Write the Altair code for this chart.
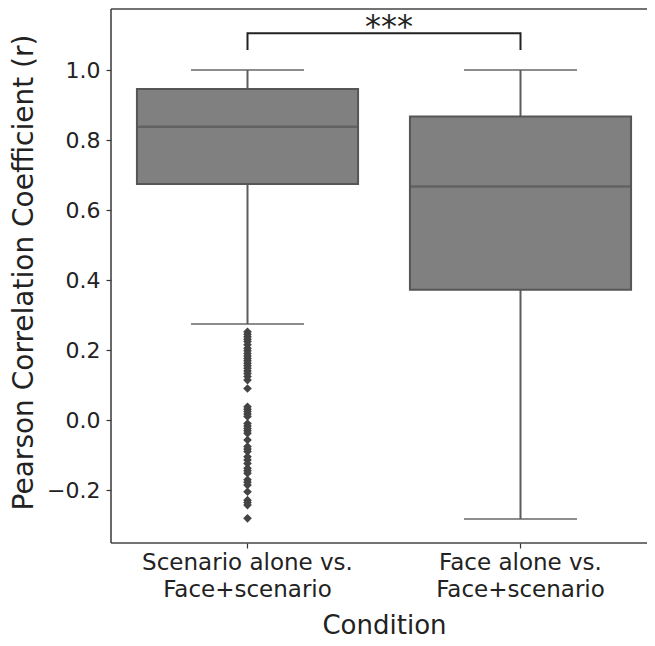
import altair as alt
import pandas as pd

# ---- data ----
categories = ["Scenario alone vs.\nFace+scenario", "Face alone vs.\nFace+scenario"]
q1 = [0.674, 0.372]
median = [0.838, 0.667]
q3 = [0.946, 0.867]
whisker_low = [0.274, -0.283]
whisker_high = [1.0, 1.0]

outliers_cat0 = [0.252, 0.245, 0.238, 0.231, 0.224, 0.215, 0.205, 0.198, 0.190, 0.183,
                 0.176, 0.169, 0.162, 0.155, 0.148, 0.140, 0.133, 0.124, 0.114, 0.090,
                 0.038, 0.031, 0.024, 0.017, 0.010, -0.010, -0.017, -0.024, -0.031, -0.038,
                 -0.057, -0.076, -0.083, -0.090, -0.105, -0.114, -0.124, -0.138, -0.145,
                 -0.152, -0.171, -0.178, -0.186, -0.205, -0.229, -0.236, -0.243, -0.281]

y_ticks = [-0.2, 0.0, 0.2, 0.4, 0.6, 0.8, 1.0]
sig_label = "***"
bracket_low = 1.057
bracket_high = 1.105

# ---- tables ----
boxes = pd.DataFrame({"cat": categories, "q1": q1, "median": median, "q3": q3,
                      "lo": whisker_low, "hi": whisker_high})
caps = pd.DataFrame({"cat": categories * 2, "v": whisker_low + whisker_high})
outl = pd.DataFrame({"cat": [categories[0]] * len(outliers_cat0), "v": outliers_cat0})
bracket = pd.DataFrame({"cat": [categories[0], categories[0], categories[1], categories[1]],
                        "v": [bracket_low, bracket_high, bracket_high, bracket_low],
                        "o": [0, 1, 2, 3]})
sig = pd.DataFrame({"v": [bracket_high], "t": [sig_label]})

STEP = 273
W = 536
H = 534
ydom = [-0.3514, 1.1743]

xenc = alt.X("cat:N", sort=categories,
             scale=alt.Scale(domain=categories, range=[0, 2 * STEP], paddingInner=0, paddingOuter=0),
             axis=alt.Axis(title="Condition", labelAngle=0, labelExpr="split(datum.label, '\\n')",
                           labelFontSize=23, labelColor="#222", labelLineHeight=27,
                           labelLimit=500, labelPadding=3, tickSize=5, tickColor="#333",
                           tickWidth=1.2, domain=False, grid=False, titleFontSize=26,
                           titleColor="#222", titleFontWeight="normal", titleY=95,
                           titleBaseline="bottom", titleFont="DejaVu Sans",
                           labelFont="DejaVu Sans"))
yscale = alt.Scale(domain=ydom, nice=False, zero=False)
yaxis = alt.Axis(title="Pearson Correlation Coefficient (r)", values=y_ticks, format=".1f",
                 labelFontSize=22, labelColor="#222", labelPadding=6, tickSize=5,
                 tickColor="#333", tickWidth=1.2, domain=False, grid=False,
                 titleFontSize=28, titleColor="#222", titleFontWeight="normal",
                 titleX=-79, titleY=263, titleAngle=270, titleAlign="center",
                 titleBaseline="alphabetic", titleFont="DejaVu Sans",
                 titleLimit=700, labelFont="DejaVu Sans")

LINE = "#5c5c5c"
FRAME = "#444"

whisk = alt.Chart(boxes).mark_rule(color=LINE, strokeWidth=2).encode(
    x=xenc, y=alt.Y("lo:Q", scale=yscale, axis=yaxis), y2="hi:Q")

box = alt.Chart(boxes).mark_bar(width=alt.RelativeBandSize(0.81), fill="#808080",
                                stroke="#565656", strokeWidth=2).encode(
    x=alt.X("cat:N", sort=categories), y=alt.Y("q1:Q", scale=yscale), y2="q3:Q")

med = alt.Chart(boxes).mark_tick(size=221, thickness=2.5, color="#565656").encode(
    x=alt.X("cat:N", sort=categories), y=alt.Y("median:Q", scale=yscale))

cap = alt.Chart(caps).mark_tick(size=113, thickness=2, color=LINE).encode(
    x=alt.X("cat:N", sort=categories), y=alt.Y("v:Q", scale=yscale))

pts = alt.Chart(outl).mark_point(shape="diamond", filled=True, size=75, color="#444",
                                 opacity=1).encode(
    x=alt.X("cat:N", sort=categories), y=alt.Y("v:Q", scale=yscale))

brk = alt.Chart(bracket).mark_line(color="#222", strokeWidth=2).encode(
    x=alt.X("cat:N", sort=categories), y=alt.Y("v:Q", scale=yscale), order="o:Q")

txt = alt.Chart(sig).mark_text(fontSize=32, font="DejaVu Sans", color="#222",
                               baseline="alphabetic", align="center", dy=4).encode(
    x=alt.value(STEP + 5), y=alt.Y("v:Q", scale=yscale), text="t:N")

# frame (left, top, bottom spines; the right one lies beyond the window)
left_sp = alt.Chart(sig).mark_rule(color=FRAME, strokeWidth=1.6).encode(
    x=alt.value(0), y=alt.value(0), y2=alt.value(H))
top_sp = alt.Chart(sig).mark_rule(color=FRAME, strokeWidth=1.6).encode(
    x=alt.value(0), x2=alt.value(W + 30), y=alt.value(0))
bot_sp = alt.Chart(sig).mark_rule(color=FRAME, strokeWidth=1.6).encode(
    x=alt.value(0), x2=alt.value(W + 30), y=alt.value(H))

chart = alt.layer(whisk, box, med, cap, pts, brk, txt, left_sp, top_sp, bot_sp).properties(
    width=W, height=H,
    autosize=alt.AutoSizeParams(type="none"),
    padding={"left": 103, "top": 1, "right": 0, "bottom": 95},
    background="white",
).configure_view(strokeWidth=0)

chart.save("out.html", embed_options={"renderer": "svg", "actions": False})
